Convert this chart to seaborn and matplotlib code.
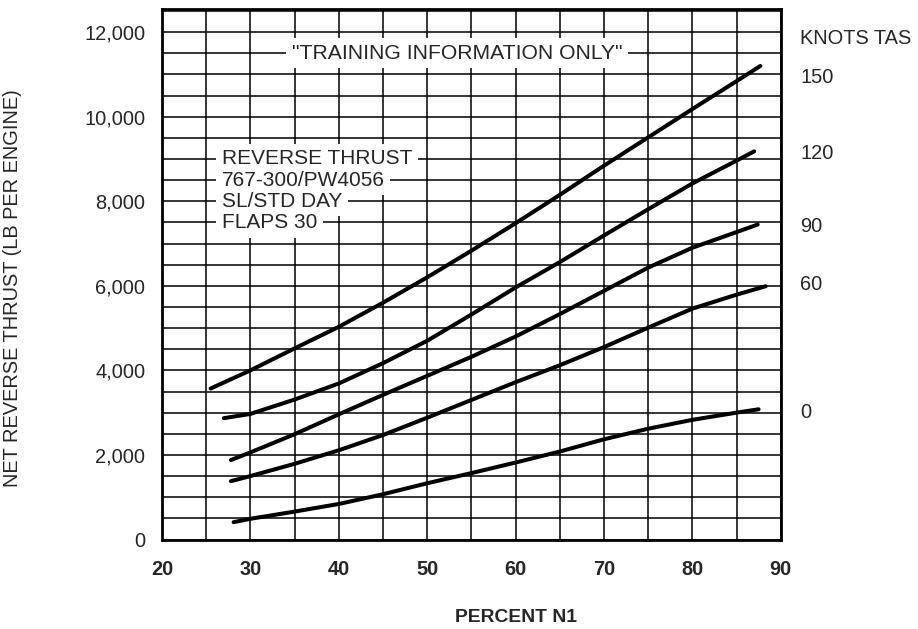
#%% import
import pandas as pd
import numpy as np
import matplotlib
matplotlib.use('Agg')
import matplotlib.pyplot as plt
import seaborn as sns
from matplotlib.ticker import MultipleLocator, FuncFormatter

#%% data (percent N1 -> net reverse thrust, lb per engine)
knots = [150, 120, 90, 60, 0]

n1_150 = [25.5, 30, 35, 40, 45, 50, 55, 60, 65, 70, 75, 80, 85, 87.7]
thrust_150 = [3570, 4000, 4520, 5030, 5600, 6200, 6830, 7480, 8150, 8840, 9510, 10180, 10840, 11200]

n1_120 = [27.0, 30, 35, 40, 45, 50, 55, 60, 65, 70, 75, 80, 85, 87.0]
thrust_120 = [2870, 2970, 3310, 3690, 4170, 4700, 5320, 5960, 6560, 7190, 7810, 8420, 8960, 9180]

n1_90 = [27.8, 30, 35, 40, 45, 50, 55, 60, 65, 70, 75, 80, 85, 87.4]
thrust_90 = [1880, 2060, 2490, 2960, 3420, 3870, 4320, 4800, 5330, 5880, 6430, 6900, 7270, 7450]

n1_60 = [27.8, 30, 35, 40, 45, 50, 55, 60, 65, 70, 75, 80, 85, 88.3]
thrust_60 = [1380, 1500, 1790, 2110, 2470, 2880, 3300, 3720, 4120, 4550, 5010, 5460, 5790, 5990]

n1_0 = [28.1, 30, 35, 40, 45, 50, 55, 60, 65, 70, 75, 80, 85, 87.5]
thrust_0 = [410, 490, 660, 840, 1070, 1330, 1570, 1820, 2080, 2370, 2620, 2830, 3000, 3080]

notes = ['REVERSE THRUST', '767-300/PW4056', 'SL/STD DAY', 'FLAPS 30']
banner = '"TRAINING INFORMATION ONLY"'

#%% long table for seaborn
curves = [(150, n1_150, thrust_150), (120, n1_120, thrust_120), (90, n1_90, thrust_90),
          (60, n1_60, thrust_60), (0, n1_0, thrust_0)]
df = pd.concat([pd.DataFrame({'knots': k, 'n1': x, 'thrust': y}) for k, x, y in curves], ignore_index=True)

#%% layout
label_y = [10930, 9140, 7400, 6020, 3000]   # where the knots labels sit
note_y = [9000, 8500, 8000, 7500]
fs = 14.4

sns.set_style('white')
plt.rcParams['font.family'] = ['Liberation Sans', 'DejaVu Sans']

fig = plt.figure(figsize=(9.18, 6.29), dpi=100)
ax = fig.add_axes([162/918, 1-539.5/629, (780.7-162)/918, (539.5-9.3)/629])

sns.lineplot(data=df, x='n1', y='thrust', hue='knots', units='knots', estimator=None,
             palette=['black']*5, legend=False, lw=2.9, sort=False, ax=ax, zorder=3)

ax.set_xlim(20, 90)
ax.set_ylim(0, 12540)
ax.xaxis.set_major_locator(MultipleLocator(10))
ax.xaxis.set_minor_locator(MultipleLocator(5))
ax.yaxis.set_major_locator(MultipleLocator(2000))
ax.yaxis.set_minor_locator(MultipleLocator(500))
ax.yaxis.set_major_formatter(FuncFormatter(lambda v, p: '{:,.0f}'.format(v)))
ax.grid(which='both', color='black', lw=1.1)
ax.set_axisbelow(True)
for s in ax.spines.values():
    s.set_color('black')
    s.set_linewidth(2)

ax.tick_params(which='both', direction='out', length=3, width=1, color='black')
ax.tick_params(axis='x', labelsize=fs, pad=12)
ax.tick_params(axis='y', labelsize=fs, pad=9)
for t in ax.get_xticklabels():
    t.set_fontweight('bold')

ax.set_xlabel('PERCENT N1', fontsize=fs-0.5, fontweight='bold')
ax.xaxis.set_label_coords(0.572, -0.131)
ax.set_ylabel('NET REVERSE THRUST (LB PER ENGINE)', fontsize=fs)
ax.yaxis.set_label_coords(-0.226, 0.474)

# right hand speed labels
ax.text(92.2, 11840, 'KNOTS TAS', fontsize=fs, va='center', ha='left', clip_on=False)
for k, yy in zip(knots, label_y):
    ax.text(92.2, yy, str(k), fontsize=fs, va='center', ha='left', clip_on=False)

# boxes inside the grid
box = dict(facecolor='white', edgecolor='none', pad=4)
ax.text(53.4, 11500, banner, fontsize=15.2, ha='center', va='center', bbox=box, zorder=5)
for txt, yy in zip(notes, note_y):
    ax.text(26.75, yy, txt, fontsize=15, ha='left', va='center', bbox=box, zorder=5)

fig.savefig('out.png', dpi=100)
